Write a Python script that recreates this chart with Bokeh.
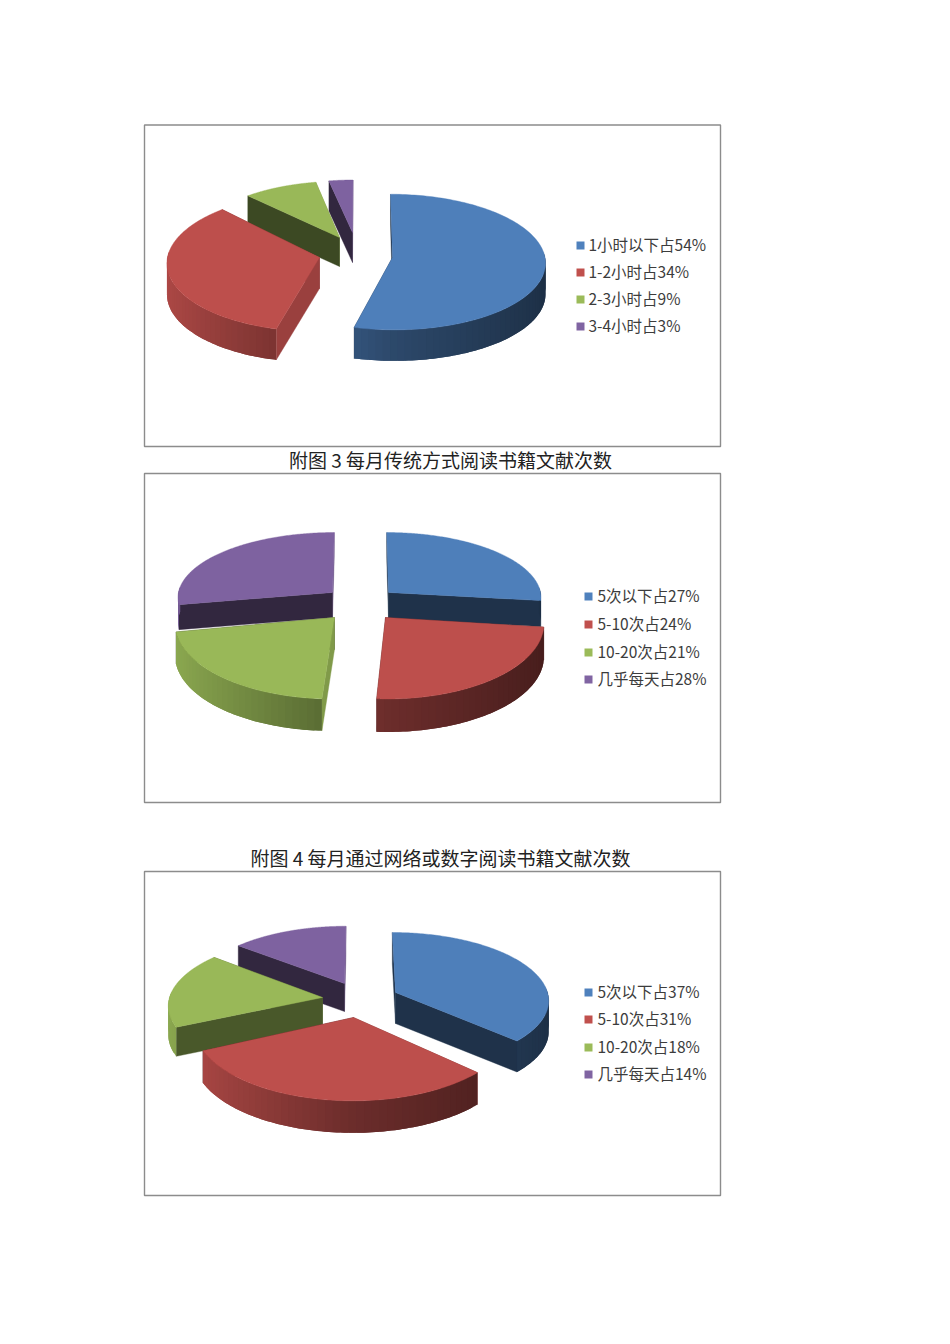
import numpy as np
from bokeh.plotting import figure
from bokeh.models import Range1d
from bokeh.core.properties import value
from bokeh.embed import file_html
from bokeh.resources import INLINE

# ---------- data ----------
labels_a = ["1小时以下占54%", "1-2小时占34%", "2-3小时占9%", "3-4小时占3%"]
values_a = [54, 34, 9, 3]
labels_b = ["5次以下占27%", "5-10次占24%", "10-20次占21%", "几乎每天占28%"]
values_b = [27, 24, 21, 28]
labels_c = ["5次以下占37%", "5-10次占31%", "10-20次占18%", "几乎每天占14%"]
values_c = [37, 31, 18, 14]
caption_b = "附图 3 每月传统方式阅读书籍文献次数"
caption_c = "附图 4 每月通过网络或数字阅读书籍文献次数"

# ---------- styles / layout (not data) ----------
COLORS = [(79, 129, 189), (192, 80, 77), (155, 187, 89), (128, 100, 162)]
FONT = "Noto Sans CJK SC"
VX = 360.0

# per slice: apex x, apex y, radius x, radius y, extrusion
LAYOUT_A = dict(k=0.067, slices=[(392, 257, 152.5, 67.5, 31), (319, 257, 152, 69, 31),
                                 (339, 237, 142, 60, 29), (352, 232, 137, 56, 30)],
                frame=(144, 124.5, 720, 446), legend=(580, 588, [245, 272, 299, 326]))
LAYOUT_B = dict(k=0.067, slices=[(388, 592, 152, 64, 26), (385, 617, 158, 76, 33),
                                 (334, 617, 159, 76, 32), (332, 592, 154, 64, 25)],
                frame=(144, 473, 720, 802), legend=(588, 597, [596, 624, 652, 679]))
LAYOUT_C = dict(k=0.10, slices=[(395, 992, 152, 66, 31), (353, 1017, 159, 75, 32),
                                (322, 997, 153, 67, 29), (344, 983, 148, 63, 28)],
                frame=(144, 871, 720, 1195), legend=(588, 597, [992, 1019, 1047, 1074]))
LEGEND_TEXT_NUDGE = -1.5
CAPTION_NUDGE = -1

p = figure(width=934, height=1328, x_range=Range1d(0, 934), y_range=Range1d(1328, 0),
           output_backend="svg", toolbar_location=None, min_border=0,
           x_axis_location=None, y_axis_location=None, background_fill_color="white",
           border_fill_color="white", outline_line_color=None)
p.grid.visible = False


def hexa(rgb, f):
    return "#%02x%02x%02x" % tuple(int(round(min(255, c * f))) for c in rgb)


def project(ang, ax, ay, rx, ry, k):
    """Perspective projection of a rim point, angle clockwise from the back."""
    X, Y = np.sin(ang), np.cos(ang)
    s = 1.0 / (1.0 + k * Y)
    return ax + rx * X * s + (VX - ax) * (1 - s), ay - ry * Y * s


def draw_pie(values, labels, lay):
    k = lay["k"]
    fr = lay["frame"]
    p.quad(left=[fr[0]], right=[fr[2]], top=[fr[1]], bottom=[fr[3]], fill_color="white",
           line_color="#8c8c8c", line_width=1.4)
    total = float(sum(values))
    edges = np.concatenate([[0], np.cumsum(values)]) / total * 2 * np.pi
    order = sorted(range(len(values)), key=lambda i: lay["slices"][i][1])
    for i in order:
        ax, ay, rx, ry, d = lay["slices"][i]
        a0, a1 = edges[i], edges[i + 1]
        base = COLORS[i]
        # flat cut faces, the ones turned away from the viewer first
        faces = sorted(((a0, a0 - np.pi / 2), (a1, a1 + np.pi / 2)), key=lambda fc: -np.cos(fc[1]))
        for ang, normal in faces:
            x, y = project(ang, ax, ay, rx, ry, k)
            f = 0.39 + max(0.0, np.sin(normal) - 0.3) * 0.62
            c = hexa(base, f)
            p.patch([ax, x, x, ax], [ay, y, y + d, ay + d], fill_color=c, line_color=c, line_width=0.4)
        # curved outer wall, shaded step by step; each strip runs under the next one
        lo, hi = max(a0, np.radians(85)), min(a1, np.radians(275))
        if hi > lo:
            n = max(2, int(np.degrees(hi - lo) / 2.5))
            th = np.linspace(lo, hi, n + 1)
            step = th[1] - th[0]
            xs, ys, cs = [], [], []
            for t0, t1 in zip(th[:-1], th[1:]):
                tt = np.linspace(t0, min(hi, t1 + step), 5)
                xa, ya = project(tt, ax, ay, rx, ry, k)
                xs.append(np.r_[xa, xa[::-1]].tolist())
                ys.append(np.r_[ya, ya[::-1] + d].tolist())
                fac = np.interp(np.sin((t0 + t1) / 2), [-1, 0, 1], [0.9, 0.56, 0.37])
                cs.append(hexa(base, fac))
            p.patches(xs, ys, fill_color=cs, line_color=None)
        # top face
        th = np.linspace(a0, a1, 160)
        x, y = project(th, ax, ay, rx, ry, k)
        p.patch(np.r_[ax, x], np.r_[ay, y], fill_color=hexa(base, 0.985), line_color=hexa(base, 0.985), line_width=0.4)
    # legend
    mx, tx, ly = lay["legend"]
    p.rect([mx] * len(ly), ly, width=8, height=8, fill_color=[hexa(c, 1) for c in COLORS], line_color=None)
    p.text([tx] * len(ly), [v + LEGEND_TEXT_NUDGE for v in ly], text=labels, text_font=value(FONT),
           text_font_size="15.5px", text_color="#3c3c3c", text_baseline="middle", text_align="left")


draw_pie(values_a, labels_a, LAYOUT_A)
draw_pie(values_b, labels_b, LAYOUT_B)
draw_pie(values_c, labels_c, LAYOUT_C)

p.text([450], [460 + CAPTION_NUDGE], text=[caption_b], text_font=value(FONT), text_font_size="19px",
       text_color="#222222", text_baseline="middle", text_align="center")
p.text([440], [858 + CAPTION_NUDGE], text=[caption_c], text_font=value(FONT), text_font_size="19px",
       text_color="#222222", text_baseline="middle", text_align="center")

open("out.html", "w").write(file_html(p, INLINE))
